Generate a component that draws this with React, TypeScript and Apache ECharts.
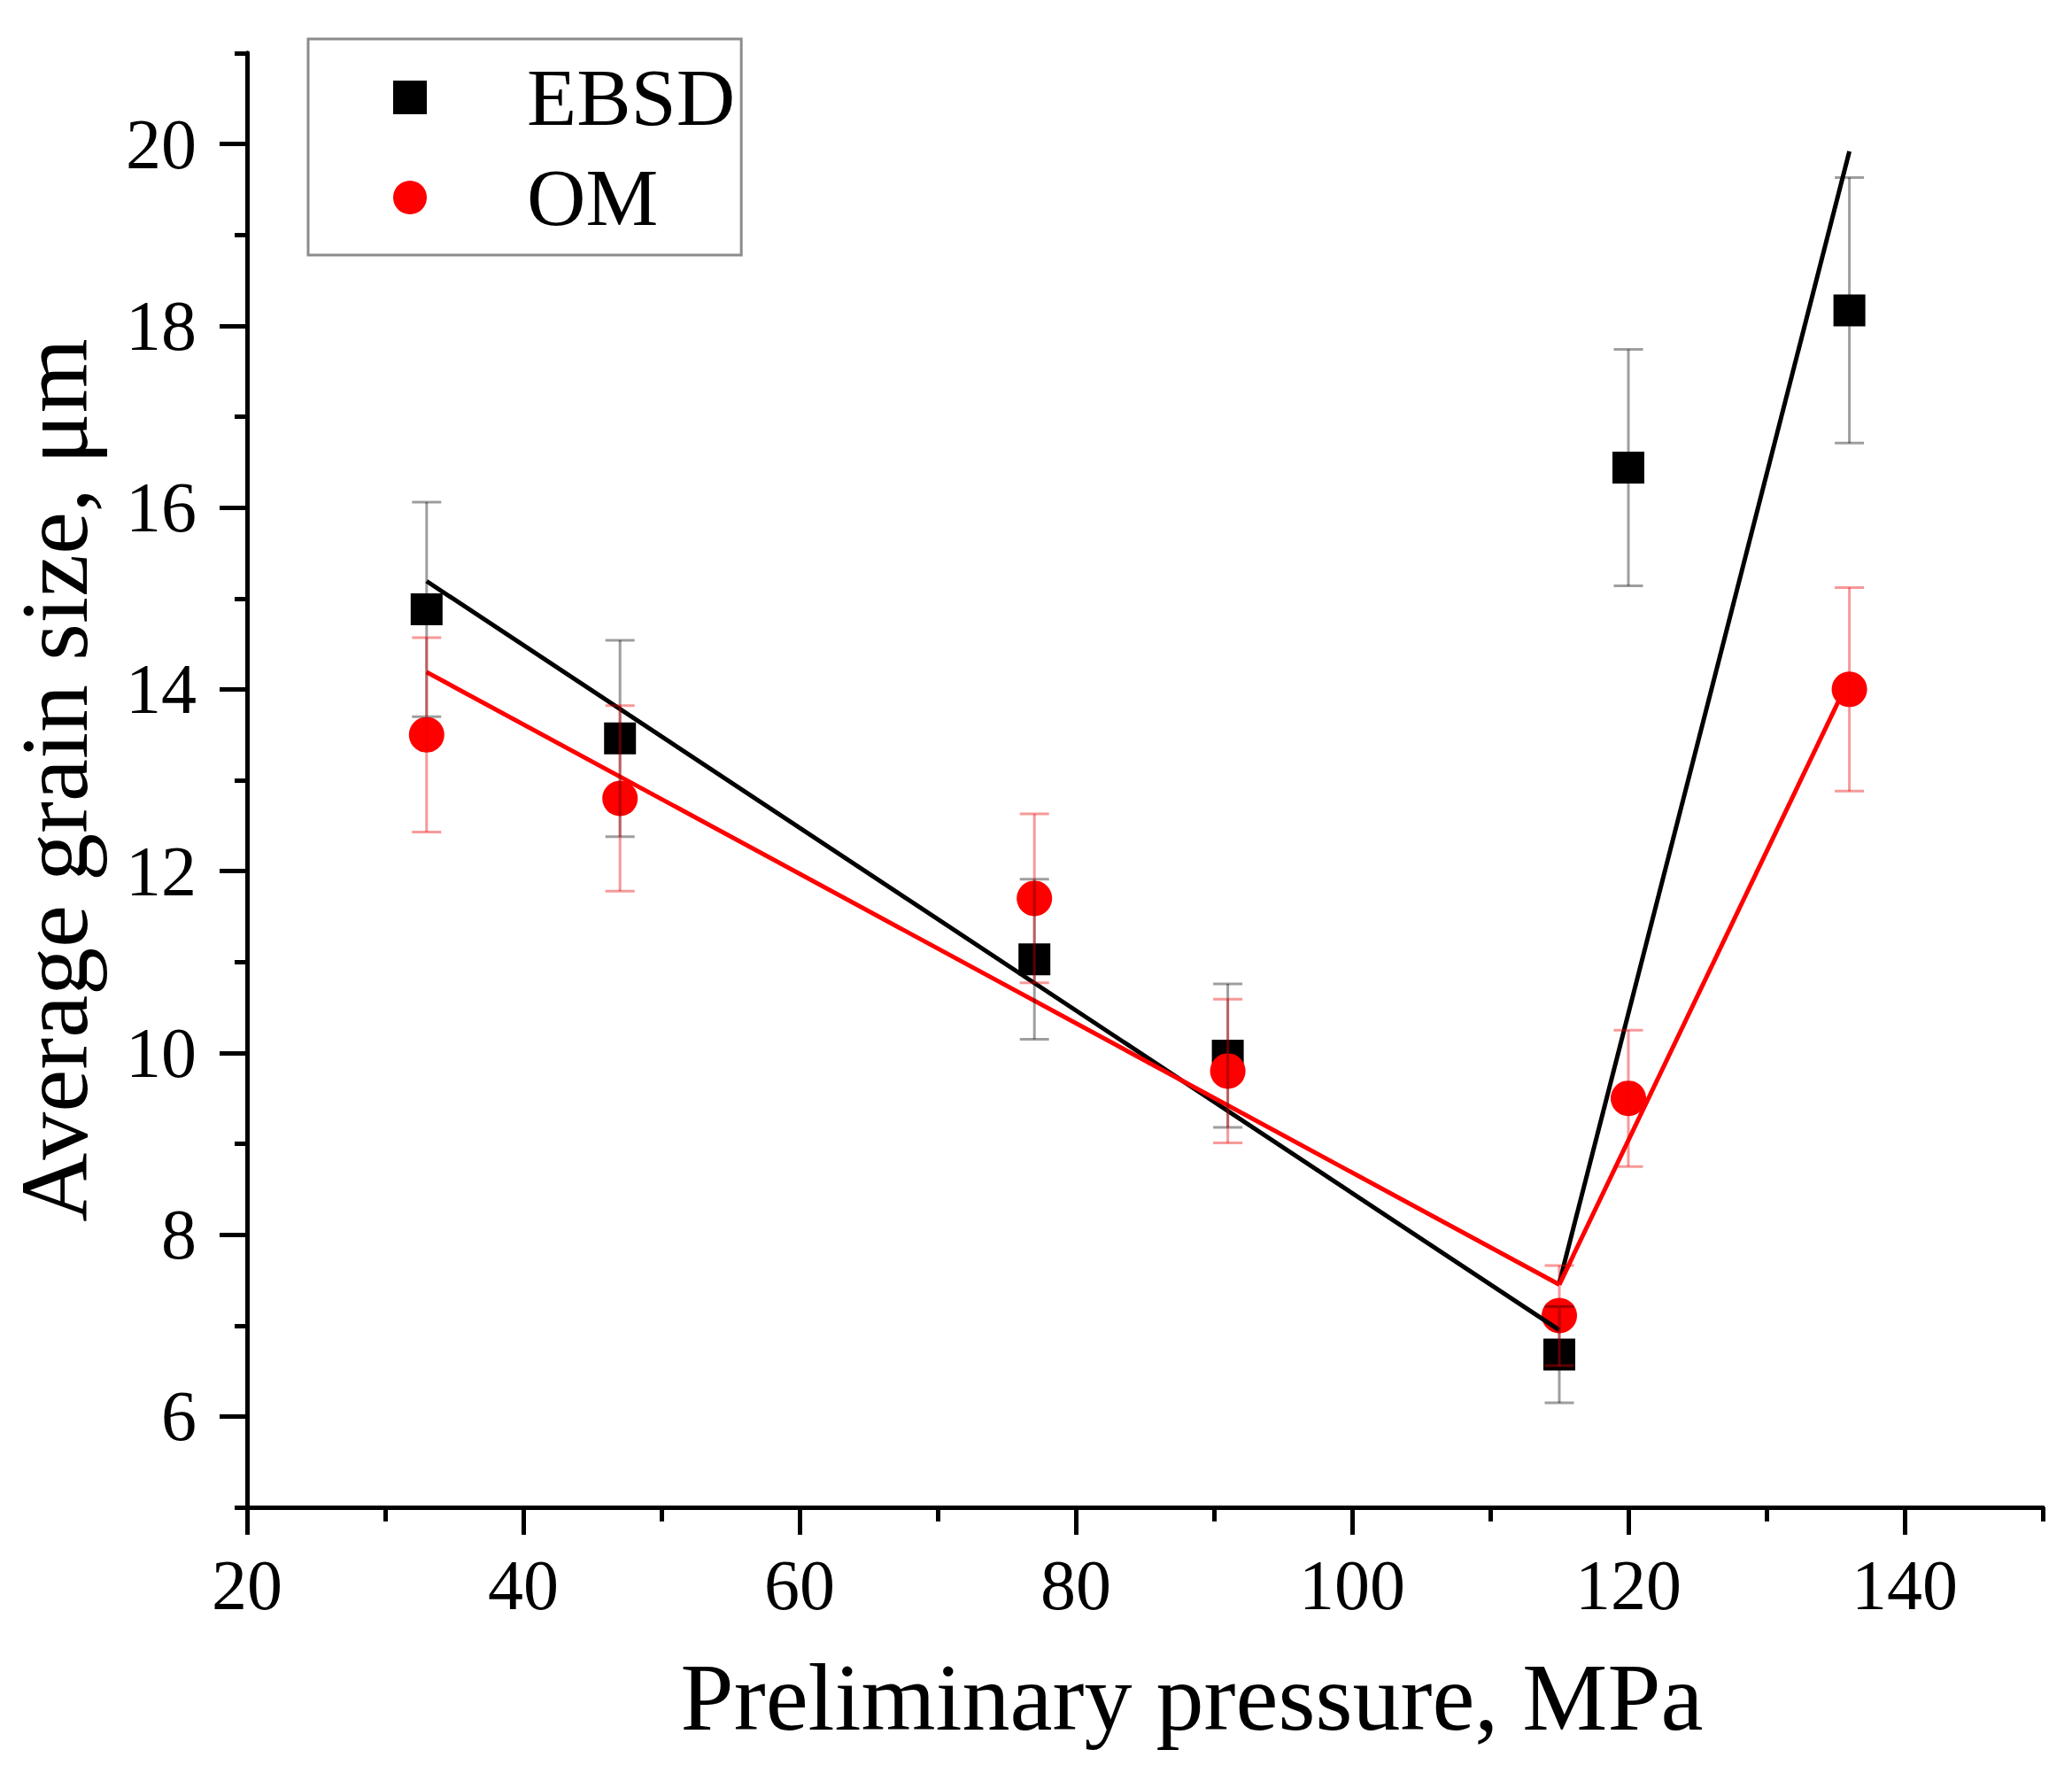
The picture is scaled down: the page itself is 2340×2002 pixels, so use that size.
import React, { useEffect, useRef } from "react";
import * as echarts from "echarts";

const pressure = [33, 47, 77, 91, 115, 120, 136];
const ebsdSize = [14.88, 13.46, 11.03, 9.97, 6.68, 16.44, 18.17];
const ebsdErr = [1.18, 1.08, 0.88, 0.79, 0.53, 1.3, 1.46];
const omSize = [13.5, 12.8, 11.7, 9.8, 7.11, 9.5, 14.0];
const omErr = [1.07, 1.02, 0.93, 0.79, 0.55, 0.75, 1.12];

const ebsdFitLeft = [[33, 15.19], [115, 6.95]];
const ebsdFitRight = [[115, 7.47], [136, 19.92]];
const omFitLeft = [[33, 14.19], [115, 7.45]];
const omFitRight = [[115, 7.45], [136, 14.12]];

const xTickLabels = [20, 40, 60, 80, 100, 120, 140];
const yTickLabels = [6, 8, 10, 12, 14, 16, 18, 20];

const FONT = "'Liberation Serif', 'Times New Roman', serif";

function errorSeries(name: string, vals: number[], errs: number[], color: string) {
  return {
    type: "custom",
    name,
    z: 5,
    silent: true,
    encode: { x: 0, y: 1 },
    data: pressure.map((p, i) => [p, vals[i], errs[i]]),
    renderItem: (_params: any, api: any) => {
      const x = api.value(0);
      const y = api.value(1);
      const e = api.value(2);
      const t = api.coord([x, y + e]);
      const b = api.coord([x, y - e]);
      const hw = 16.5;
      const style = { stroke: color, lineWidth: 3, fill: null };
      return {
        type: "group",
        children: [
          { type: "line", shape: { x1: t[0], y1: t[1], x2: b[0], y2: b[1] }, style },
          { type: "line", shape: { x1: t[0] - hw, y1: t[1], x2: t[0] + hw, y2: t[1] }, style },
          { type: "line", shape: { x1: b[0] - hw, y1: b[1], x2: b[0] + hw, y2: b[1] }, style },
        ],
      };
    },
  };
}

function fitSeries(data: number[][], color: string) {
  return {
    type: "line",
    data,
    showSymbol: false,
    symbol: "none",
    silent: true,
    z: 4,
    lineStyle: { color, width: 5 },
  };
}

export default function App() {
  const ref = useRef<HTMLDivElement>(null);
  useEffect(() => {
    if (!ref.current) return;
    const chart = echarts.init(ref.current, null, { renderer: "svg" });
    const axisLabelStyle = { color: "#000", fontSize: 80, fontFamily: FONT };
    const axisLineStyle = { color: "#000", width: 5 };
    chart.setOption({
      animation: false,
      backgroundColor: "#fff",
      textStyle: { fontFamily: FONT },
      grid: { left: 279, top: 60, right: 33, bottom: 300, outerBoundsMode: "none" },
      legend: {
        data: ["EBSD", "OM"],
        orient: "vertical",
        left: 348,
        top: 44,
        padding: [20, 7, 19, 96],
        borderColor: "#8c8c8c",
        borderWidth: 3,
        itemWidth: 38,
        itemHeight: 38,
        itemGap: 21,
        textStyle: {
          fontSize: 92,
          lineHeight: 92,
          color: "#000",
          fontFamily: FONT,
          padding: [0, 0, 0, 108],
        },
      },
      xAxis: [
        {
          type: "value",
          min: 20,
          max: 150,
          name: "Preliminary pressure, MPa",
          nameLocation: "middle",
          nameGap: 160,
          nameTextStyle: { fontSize: 108, color: "#000", fontFamily: FONT, padding: [0, 0, 0, 106] },
          axisLine: { show: true, lineStyle: axisLineStyle },
          axisTick: { show: true, length: 31, customValues: xTickLabels, lineStyle: axisLineStyle },
          axisLabel: { ...axisLabelStyle, margin: 48, customValues: xTickLabels },
          splitLine: { show: false },
        },
        {
          type: "value",
          min: 20,
          max: 150,
          interval: 10,
          position: "bottom",
          axisLine: { show: true, lineStyle: axisLineStyle },
          axisTick: { show: true, length: 16, lineStyle: axisLineStyle },
          axisLabel: { show: false },
          splitLine: { show: false },
        },
      ],
      yAxis: [
        {
          type: "value",
          min: 5,
          max: 21,
          position: "left",
          name: "Average grain size, μm",
          nameLocation: "middle",
          nameGap: 164,
          nameTextStyle: { fontSize: 108, lineHeight: 108, color: "#000", fontFamily: FONT },
          axisLine: { show: true, lineStyle: axisLineStyle },
          axisTick: { show: true, length: 31, customValues: yTickLabels, lineStyle: axisLineStyle },
          axisLabel: { ...axisLabelStyle, margin: 57, customValues: yTickLabels },
          splitLine: { show: false },
        },
        {
          type: "value",
          min: 5,
          max: 21,
          interval: 1,
          position: "left",
          axisLine: { show: true, lineStyle: axisLineStyle },
          axisTick: { show: true, length: 14, lineStyle: axisLineStyle },
          axisLabel: { show: false },
          splitLine: { show: false },
        },
      ],
      series: [
        {
          type: "scatter",
          name: "EBSD",
          symbol: "rect",
          symbolSize: 36,
          z: 3,
          itemStyle: { color: "#000", opacity: 1 },
          data: pressure.map((p, i) => [p, ebsdSize[i]]),
        },
        {
          type: "scatter",
          name: "OM",
          symbol: "circle",
          symbolSize: 40,
          z: 3,
          itemStyle: { color: "#ff0000", opacity: 1 },
          data: pressure.map((p, i) => [p, omSize[i]]),
        },
        fitSeries(ebsdFitLeft, "#000"),
        fitSeries(ebsdFitRight, "#000"),
        fitSeries(omFitLeft, "#ff0000"),
        fitSeries(omFitRight, "#ff0000"),
        errorSeries("EBSD err", ebsdSize, ebsdErr, "rgba(0,0,0,0.38)"),
        errorSeries("OM err", omSize, omErr, "rgba(235,0,0,0.4)"),
      ],
    });
    return () => chart.dispose();
  }, []);
  return (
    <div
      ref={ref}
      style={{ position: "fixed", left: 0, top: 0, width: 2340, height: 2002, background: "#fff" }}
    />
  );
}
